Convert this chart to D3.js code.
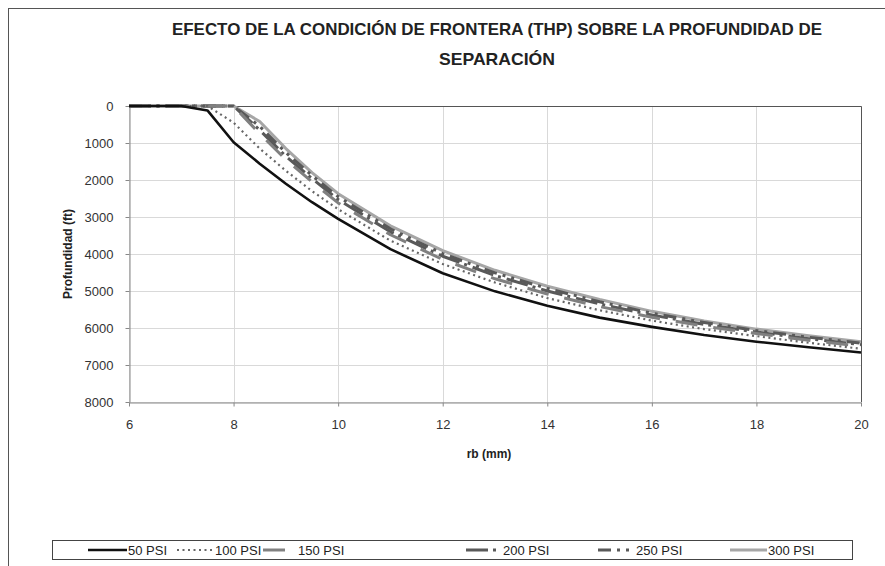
<!DOCTYPE html>
<html lang="es">
<head>
<meta charset="UTF-8">
<title>Efecto de la condición de frontera</title>
<script src="https://d3js.org/d3.v7.min.js"></script>
<style>
  body { margin: 0; background: #fff; font-family: 'Liberation Sans', Arial, sans-serif; }
  svg { display: block; }
</style>
</head>
<body>
<div id="chart"></div>
<script>
// datos
const rb = [6, 6.5, 7, 7.5, 8, 8.5, 9, 9.5, 10, 11, 12, 13, 14, 15, 16, 17, 18, 19, 20];
const psi50  = [0, 0, 0, 120, 980, 1560, 2100, 2600, 3050, 3870, 4520, 5010, 5400, 5720, 5970, 6190, 6370, 6520, 6660];
const psi100 = [0, 0, 0, 0, 450, 1150, 1750, 2300, 2790, 3640, 4270, 4770, 5190, 5520, 5800, 6030, 6220, 6400, 6560];
const psi150 = [0, 0, 0, 0, 0, 750, 1450, 2050, 2620, 3480, 4150, 4670, 5080, 5420, 5710, 5950, 6150, 6330, 6490];
const psi200 = [0, 0, 0, 0, 0, 650, 1360, 1960, 2530, 3400, 4060, 4580, 5000, 5350, 5650, 5900, 6110, 6290, 6450];
const psi250 = [0, 0, 0, 0, 0, 550, 1260, 1880, 2450, 3320, 3990, 4510, 4930, 5290, 5600, 5850, 6070, 6250, 6410];
const psi300 = [0, 0, 0, 0, 0, 420, 1150, 1800, 2370, 3240, 3910, 4440, 4870, 5230, 5550, 5810, 6030, 6210, 6370];
const seriesNames = ["50 PSI", "100 PSI", "150 PSI", "200 PSI", "250 PSI", "300 PSI"];
const xTicks = [6, 8, 10, 12, 14, 16, 18, 20];
const yTicks = [0, 1000, 2000, 3000, 4000, 5000, 6000, 7000, 8000];

const series = [
  { name: seriesNames[0], values: psi50,  color: "#111",    width: 2.6, dash: null },
  { name: seriesNames[1], values: psi100, color: "#666",    width: 2.2, dash: "2,3.5" },
  { name: seriesNames[2], values: psi150, color: "#808080", width: 3,   dash: "22,16" },
  { name: seriesNames[3], values: psi200, color: "#595959", width: 3,   dash: "22,5,3,6" },
  { name: seriesNames[4], values: psi250, color: "#595959", width: 3,   dash: "13,6,3,6,3,6" },
  { name: seriesNames[5], values: psi300, color: "#a6a6a6", width: 3,   dash: null }
];

const W = 885, H = 566;
const plot = { left: 129, right: 861, top: 106, bottom: 402 };

const svg = d3.select("#chart").append("svg")
  .attr("width", W).attr("height", H);

// marco exterior
svg.append("rect")
  .attr("x", 8.5).attr("y", 8.5)
  .attr("width", W + 20).attr("height", H + 20)
  .attr("fill", "#fff").attr("stroke", "#555").attr("stroke-width", 1);

// título
const title = svg.append("text")
  .attr("text-anchor", "middle")
  .style("font-family", "'Liberation Sans', Arial, sans-serif")
  .style("font-weight", "bold")
  .style("font-size", "17px")
  .style("fill", "#222");
title.append("tspan").attr("x", 497).attr("y", 35)
  .attr("textLength", 650).attr("lengthAdjust", "spacingAndGlyphs")
  .text("EFECTO DE LA CONDICIÓN DE FRONTERA (THP) SOBRE LA PROFUNDIDAD DE");
title.append("tspan").attr("x", 497).attr("y", 65)
  .attr("textLength", 116).attr("lengthAdjust", "spacingAndGlyphs")
  .text("SEPARACIÓN");

const x = d3.scaleLinear().domain([6, 20]).range([plot.left, plot.right]);
const y = d3.scaleLinear().domain([0, 8000]).range([plot.top, plot.bottom]);

// rejilla
svg.append("g")
  .selectAll("line")
  .data(yTicks)
  .enter().append("line")
  .attr("x1", plot.left).attr("x2", plot.right)
  .attr("y1", d => Math.round(y(d)) + 0.5).attr("y2", d => Math.round(y(d)) + 0.5)
  .attr("stroke", "#d9d9d9");
svg.append("g")
  .selectAll("line")
  .data(xTicks)
  .enter().append("line")
  .attr("y1", plot.top).attr("y2", plot.bottom)
  .attr("x1", d => Math.round(x(d)) + 0.5).attr("x2", d => Math.round(x(d)) + 0.5)
  .attr("stroke", "#d9d9d9");

// borde del área de trazado (arriba y derecha)
svg.append("path")
  .attr("d", `M${plot.left},${plot.top + 0.5}H${plot.right + 0.5}V${plot.bottom}`)
  .attr("fill", "none").attr("stroke", "#555");

// ejes
const xAxis = svg.append("g")
  .attr("transform", `translate(0,${plot.bottom + 0.5})`)
  .call(d3.axisBottom(x).tickValues(xTicks).tickSize(4).tickPadding(13).tickSizeOuter(0));
const yAxis = svg.append("g")
  .attr("transform", `translate(${plot.left + 0.5},0)`)
  .call(d3.axisLeft(y).tickValues(yTicks).tickFormat(d3.format("d"))
    .tickSize(4).tickPadding(12).tickSizeOuter(0));
[xAxis, yAxis].forEach(g => {
  g.select(".domain").attr("stroke", "#888");
  g.selectAll(".tick line").attr("stroke", "#888");
  g.selectAll(".tick text")
    .style("font-family", "'Liberation Sans', Arial, sans-serif")
    .style("font-size", "13px").attr("fill", "#333");
});

// títulos de ejes
svg.append("text")
  .attr("transform", `translate(72,${(plot.top + plot.bottom) / 2}) rotate(-90)`)
  .attr("text-anchor", "middle")
  .style("font-weight", "bold").style("font-size", "12px").style("fill", "#222")
  .text("Profundidad (ft)");
svg.append("text")
  .attr("x", 489).attr("y", 458)
  .attr("text-anchor", "middle")
  .style("font-weight", "bold").style("font-size", "12px").style("fill", "#222")
  .text("rb (mm)");

// líneas
const line = d3.line()
  .x((d, i) => x(rb[i]))
  .y(d => y(d));

svg.append("g")
  .selectAll("path")
  .data(series.slice().reverse())
  .enter().append("path")
  .attr("d", d => line(d.values))
  .attr("fill", "none")
  .attr("stroke", d => d.color)
  .attr("stroke-width", d => d.width)
  .attr("stroke-dasharray", d => d.dash)
  .attr("stroke-linejoin", "round");

// leyenda
svg.append("rect")
  .attr("x", 52.5).attr("y", 540.5)
  .attr("width", 800).attr("height", 19)
  .attr("fill", "#fff").attr("stroke", "#444");

const legendLineX = [88, 177, 263, 466, 598, 730];
const legendTextX = [128, 215, 298, 503, 636, 768];
const leg = svg.append("g").selectAll("g")
  .data(series)
  .enter().append("g")
  .attr("transform", "translate(0,550)");
leg.append("line")
  .attr("x1", (d, i) => legendLineX[i])
  .attr("x2", (d, i) => legendTextX[i] - 1)
  .attr("stroke", d => d.color)
  .attr("stroke-width", d => d.width)
  .attr("stroke-dasharray", d => d.dash);
leg.append("text")
  .attr("x", (d, i) => legendTextX[i]).attr("y", 5)
  .style("font-family", "'Liberation Sans', Arial, sans-serif")
  .style("font-size", "13px").style("fill", "#222")
  .text(d => d.name);
</script>
</body>
</html>
